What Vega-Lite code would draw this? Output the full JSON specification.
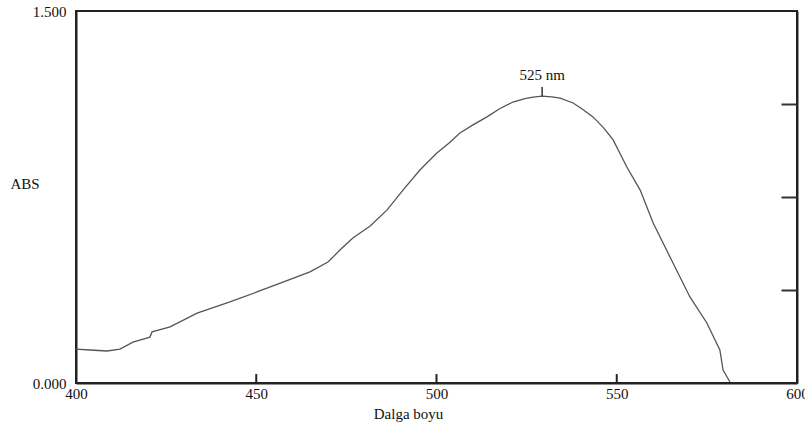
{
  "$schema": "https://vega.github.io/schema/vega-lite/v6.json",
  "width": 721,
  "height": 372,
  "autosize": "none",
  "padding": {"left": 76, "top": 11, "right": 8, "bottom": 40},
  "background": "white",
  "config": {
    "view": {"stroke": "#222", "strokeWidth": 2},
    "font": "'Liberation Serif', 'DejaVu Serif', serif",
    "axis": {"grid": false, "labelFont": "'Liberation Serif', 'DejaVu Serif', serif", "titleFont": "'Liberation Serif', 'DejaVu Serif', serif", "labelColor": "#111", "titleColor": "#111", "labelFontSize": 15, "titleFontSize": 15, "titleFontWeight": "normal", "domainColor": "#222", "domainWidth": 2, "tickColor": "#333", "tickWidth": 2}
  },
  "datasets": {
    "spectrum": [
      {"nm": 400.0, "abs": 0.137},
      {"nm": 403.9, "abs": 0.133},
      {"nm": 408.6, "abs": 0.129},
      {"nm": 412.2, "abs": 0.137},
      {"nm": 415.8, "abs": 0.165},
      {"nm": 420.5, "abs": 0.185},
      {"nm": 421.1, "abs": 0.206},
      {"nm": 426.1, "abs": 0.226},
      {"nm": 433.6, "abs": 0.282},
      {"nm": 442.7, "abs": 0.327},
      {"nm": 450.2, "abs": 0.367},
      {"nm": 457.4, "abs": 0.407},
      {"nm": 464.9, "abs": 0.448},
      {"nm": 469.9, "abs": 0.488},
      {"nm": 473.5, "abs": 0.540},
      {"nm": 476.8, "abs": 0.585},
      {"nm": 481.6, "abs": 0.633},
      {"nm": 486.3, "abs": 0.698},
      {"nm": 490.7, "abs": 0.778},
      {"nm": 495.4, "abs": 0.859},
      {"nm": 500.1, "abs": 0.927},
      {"nm": 503.5, "abs": 0.968},
      {"nm": 506.5, "abs": 1.008},
      {"nm": 510.0, "abs": 1.040},
      {"nm": 514.0, "abs": 1.073},
      {"nm": 517.5, "abs": 1.106},
      {"nm": 521.2, "abs": 1.133},
      {"nm": 524.5, "abs": 1.147},
      {"nm": 526.8, "abs": 1.153},
      {"nm": 529.3, "abs": 1.157},
      {"nm": 532.0, "abs": 1.154},
      {"nm": 534.3, "abs": 1.149},
      {"nm": 537.9, "abs": 1.129},
      {"nm": 540.5, "abs": 1.104},
      {"nm": 543.4, "abs": 1.073},
      {"nm": 546.3, "abs": 1.030},
      {"nm": 549.0, "abs": 0.980},
      {"nm": 552.8, "abs": 0.871},
      {"nm": 556.5, "abs": 0.778},
      {"nm": 560.1, "abs": 0.645},
      {"nm": 565.6, "abs": 0.484},
      {"nm": 570.3, "abs": 0.347},
      {"nm": 575.0, "abs": 0.242},
      {"nm": 578.6, "abs": 0.133},
      {"nm": 579.5, "abs": 0.052},
      {"nm": 581.4, "abs": 0.004}
    ],
    "peak": [
      {"nm": 529.3, "abs": 1.157, "top": 1.194, "labelY": 1.242, "label": "525 nm"}
    ],
    "xticks": [
      {"nm": 450, "lo": 0, "hi": 0.036},
      {"nm": 500, "lo": 0, "hi": 0.036},
      {"nm": 550, "lo": 0, "hi": 0.036}
    ]
  },
  "layer": [
    {
      "data": {"name": "spectrum"},
      "mark": {"type": "line", "color": "#555", "strokeWidth": 1.3},
      "encoding": {
        "x": {"field": "nm", "type": "quantitative", "scale": {"domain": [400, 600], "nice": false, "zero": false},
          "axis": {"values": [400, 450, 500, 550, 600], "ticks": false, "labelPadding": 3, "labelFlush": false, "title": "Dalga boyu", "titleX": 332, "titleY": 30, "titleBaseline": "middle", "titleAnchor": "start", "titleAlign": "center"}},
        "y": {"field": "abs", "type": "quantitative", "scale": {"domain": [0, 1.5], "nice": false},
          "axis": {"values": [0, 1.5], "format": ".3f", "ticks": false, "labelPadding": 10, "labelFlush": false, "title": "ABS", "titleAngle": 0, "titleX": -66, "titleY": 172, "titleAlign": "left", "titleBaseline": "middle"}}
      }
    },
    {
      "data": {"name": "xticks"},
      "mark": {"type": "rule", "color": "#222", "strokeWidth": 2},
      "encoding": {
        "x": {"field": "nm", "type": "quantitative"},
        "y": {"field": "lo", "type": "quantitative", "axis": null},
        "y2": {"field": "hi"}
      }
    },
    {
      "data": {"name": "peak"},
      "mark": {"type": "rule", "color": "#333", "strokeWidth": 1.5},
      "encoding": {
        "x": {"field": "nm", "type": "quantitative"},
        "y": {"field": "abs", "type": "quantitative", "axis": {"orient": "right", "values": [0.375, 0.75, 1.125], "labels": false, "tickSize": -16, "title": null}},
        "y2": {"field": "top"}
      }
    },
    {
      "data": {"name": "peak"},
      "mark": {"type": "text", "fontSize": 15, "color": "#111", "font": "'Liberation Serif', 'DejaVu Serif', serif", "baseline": "middle"},
      "encoding": {
        "x": {"field": "nm", "type": "quantitative"},
        "y": {"field": "labelY", "type": "quantitative", "axis": null},
        "text": {"field": "label"}
      }
    }
  ],
  "resolve": {"axis": {"y": "independent"}}
}
